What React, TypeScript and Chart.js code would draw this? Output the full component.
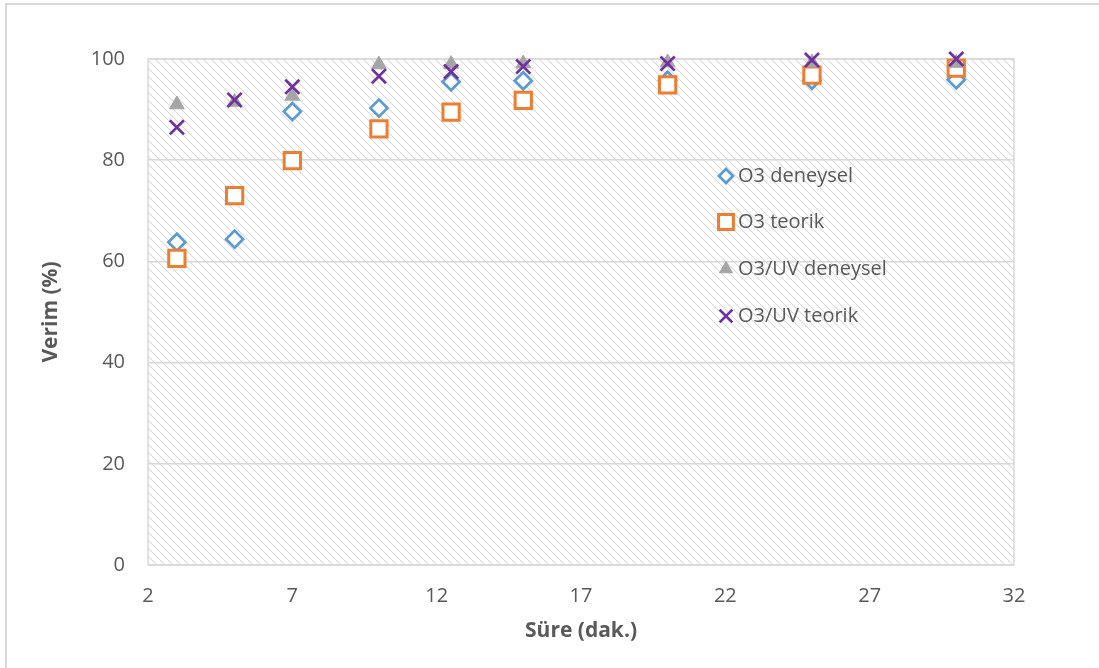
import React, { useEffect, useRef } from 'react';
import { Chart, registerables, PointElement } from 'chart.js';

Chart.register(...registerables);

// ---- data ----
const sureMinutes = [3, 5, 7, 10, 12.5, 15, 20, 25, 30];
const o3Deneysel = [63.8, 64.4, 89.6, 90.3, 95.5, 95.7, 95.8, 95.8, 95.9];
const o3Teorik = [60.6, 73.0, 79.9, 86.2, 89.5, 91.8, 94.9, 96.8, 98.2];
const uvDeneysel = [91.0, 91.5, 92.7, 98.9, 99.0, 99.1, 99.3, 99.3, 99.2];
const uvTeorik = [86.5, 91.9, 94.5, 96.6, 97.5, 98.5, 99.1, 99.8, 100];
const seriesLabels = ['O3 deneysel', 'O3 teorik', 'O3/UV deneysel', 'O3/UV teorik'];
const xTickValues = [2, 7, 12, 17, 22, 27, 32];
const yTickValues = [0, 20, 40, 60, 80, 100];
const xTitle = 'Süre (dak.)';
const yTitle = 'Verim (%)';

const FONT = "'Open Sans', 'Noto Sans', sans-serif";
const TEXT = '#595959';
const GRID = '#d9d9d9';

const toPoints = (ys: number[]) => sureMinutes.map((x, i) => ({ x, y: ys[i] }));

const hatchPlugin = {
  id: 'hatchBg',
  beforeDraw(chart: any) {
    const { ctx, chartArea: a } = chart;
    const tile = document.createElement('canvas');
    tile.width = 8;
    tile.height = 8;
    const t = tile.getContext('2d')!;
    t.fillStyle = '#ffffff';
    t.fillRect(0, 0, 8, 8);
    t.strokeStyle = '#dcdcdc';
    t.lineWidth = 1.2;
    for (const o of [-8, 0, 8]) {
      t.beginPath();
      t.moveTo(o, 0);
      t.lineTo(o + 8, 8);
      t.stroke();
    }
    const pat = ctx.createPattern(tile, 'repeat');
    ctx.save();
    ctx.fillStyle = pat;
    ctx.fillRect(a.left, a.top, a.right - a.left, a.bottom - a.top);
    ctx.restore();
  },
  beforeDatasetsDraw(chart: any) {
    const { ctx, chartArea: a } = chart;
    ctx.save();
    ctx.strokeStyle = GRID;
    ctx.lineWidth = 1.5;
    ctx.strokeRect(a.left, a.top, a.right - a.left, a.bottom - a.top);
    ctx.restore();
  },
};

const legendPlugin = {
  id: 'insideLegend',
  afterDatasetsDraw(chart: any, _args: any, opts: any) {
    const { ctx } = chart;
    ctx.save();
    chart.data.datasets.forEach((ds: any, i: number) => {
      const y = opts.rowY[i];
      const pe: any = new PointElement({} as any);
      pe.x = opts.markerX;
      pe.y = y;
      pe.options = {
        pointStyle: ds.pointStyle,
        rotation: 0,
        radius: ds.legendRadius,
        borderWidth: ds.borderWidth,
        backgroundColor: ds.backgroundColor,
        borderColor: ds.borderColor,
      };
      pe.draw(ctx);
      ctx.fillStyle = TEXT;
      ctx.font = `20px ${FONT}`;
      ctx.textBaseline = 'middle';
      ctx.textAlign = 'left';
      ctx.fillText(ds.label, opts.textX, y);
    });
    ctx.restore();
  },
};

export default function App() {
  const ref = useRef<HTMLCanvasElement>(null);

  useEffect(() => {
    if (!ref.current) return;
    const chart = new Chart(ref.current, {
      type: 'scatter',
      data: {
        datasets: [
          {
            label: seriesLabels[0],
            data: toPoints(o3Deneysel),
            pointStyle: 'rectRot',
            radius: 8.5,
            legendRadius: 7,
            borderWidth: 2.7,
            borderColor: '#5b9bd5',
            backgroundColor: '#ffffff',
            order: 4,
            clip: false,
          } as any,
          {
            label: seriesLabels[1],
            data: toPoints(o3Teorik),
            pointStyle: 'rect',
            radius: 11.5,
            legendRadius: 10.5,
            borderWidth: 3,
            borderColor: '#ed7d31',
            backgroundColor: '#ffffff',
            order: 3,
            clip: false,
          } as any,
          {
            label: seriesLabels[2],
            data: toPoints(uvDeneysel),
            pointStyle: 'triangle',
            radius: 8.5,
            legendRadius: 7.5,
            borderWidth: 1,
            borderColor: '#a5a5a5',
            backgroundColor: '#a5a5a5',
            order: 2,
            clip: false,
          } as any,
          {
            label: seriesLabels[3],
            data: toPoints(uvTeorik),
            pointStyle: 'crossRot',
            radius: 10,
            legendRadius: 9,
            borderWidth: 2.7,
            borderColor: '#7030a0',
            backgroundColor: '#7030a0',
            order: 1,
            clip: false,
          } as any,
        ],
      },
      options: {
        animation: false,
        responsive: false,
        devicePixelRatio: 1,
        layout: { padding: { left: 0, top: 59, right: 85, bottom: 0 } },
        plugins: {
          legend: { display: false },
          tooltip: { enabled: false },
          insideLegend: { markerX: 726, textX: 738, rowY: [176, 222, 269, 316] },
        } as any,
        scales: {
          x: {
            type: 'linear',
            min: xTickValues[0],
            max: xTickValues[xTickValues.length - 1],
            afterBuildTicks: (s: any) => {
              s.ticks = xTickValues.map((v) => ({ value: v }));
            },
            afterFit: (s: any) => {
              s.height = 103;
            },
            grid: { display: false, drawTicks: false },
            border: { display: false },
            ticks: {
              padding: 19,
              color: TEXT,
              font: { family: FONT, size: 20 },
              maxRotation: 0,
              autoSkip: false,
            },
            title: {
              display: true,
              text: xTitle,
              color: TEXT,
              font: { family: FONT, size: 21, weight: 'bold' },
              padding: { top: 0, bottom: 24 },
            },
          },
          y: {
            type: 'linear',
            min: yTickValues[0],
            max: yTickValues[yTickValues.length - 1],
            afterBuildTicks: (s: any) => {
              s.ticks = yTickValues.map((v) => ({ value: v }));
            },
            afterFit: (s: any) => {
              s.width = 148;
            },
            grid: { display: true, color: GRID, lineWidth: 1.5, drawTicks: false },
            border: { display: false },
            ticks: {
              padding: 23,
              color: TEXT,
              font: { family: FONT, size: 20 },
            },
            title: {
              display: true,
              text: yTitle,
              color: TEXT,
              font: { family: FONT, size: 21, weight: 'bold' },
              padding: { top: 38, bottom: 0 },
            },
          },
        },
      } as any,
      plugins: [hatchPlugin, legendPlugin],
    });
    return () => chart.destroy();
  }, []);

  return (
    <div>
      <div
        style={{
          position: 'fixed',
          left: 5,
          top: 3,
          width: 1300,
          height: 900,
          border: '2px solid #d9d9d9',
          boxSizing: 'border-box',
        }}
      />
      <canvas
        ref={ref}
        width={1099}
        height={668}
        style={{ position: 'fixed', left: 0, top: 0, width: 1099, height: 668 }}
      />
    </div>
  );
}
